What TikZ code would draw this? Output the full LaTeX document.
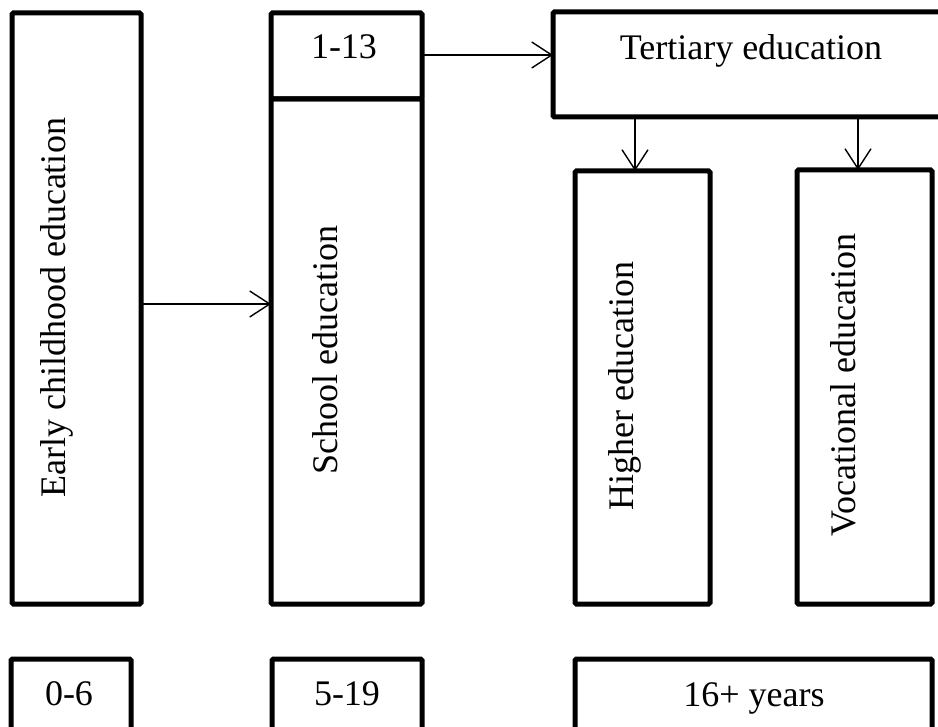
\documentclass[tikz,border=0pt]{standalone}
\usepackage{fontspec}
\setmainfont{Liberation Serif}
\usetikzlibrary{arrows.meta}
\begin{document}
\begin{tikzpicture}[x=1pt,y=-1pt,
  stagebox/.style={draw, line width=5pt, rounded corners=1.5pt, inner sep=0pt, outer sep=0pt},
  txt/.style={font=\fontsize{36}{40}\selectfont, inner sep=0pt, anchor=base},
  vtxt/.style={txt, rotate=90},
  arr/.style={line width=1.4pt, -{Straight Barb[length=20pt,width=26pt,line width=1.4pt]}}]
  \clip (0,0) rectangle (938,727);
  \fill[white] (0,0) rectangle (938,727);

  % stage boxes
  \node[stagebox, minimum width=129pt, minimum height=591pt] (early) at (76.5,308.5) {};
  \node[stagebox, minimum width=151pt, minimum height=86pt] (grades) at (346.5,56) {};
  \node[stagebox, minimum width=151pt, minimum height=505pt] (school) at (346.5,351.5) {};
  \node[stagebox, minimum width=396pt, minimum height=105pt] (tert) at (751,64.5) {};
  \node[stagebox, minimum width=135pt, minimum height=433pt] (higher) at (642.5,387.5) {};
  \node[stagebox, minimum width=135pt, minimum height=434pt] (voc) at (864.5,387) {};

  % age boxes
  \node[stagebox, minimum width=120pt, minimum height=100pt] (age1) at (71,709) {};
  \node[stagebox, minimum width=150pt, minimum height=100pt] (age2) at (347,709) {};
  \node[stagebox, minimum width=357pt, minimum height=100pt] (age3) at (753.5,709) {};

  % labels
  \node[vtxt] (tEarly) at (65,308) {Early childhood education};
  \node[vtxt] (tSchool) at (337,350) {School education};
  \node[vtxt] (tHigher) at (633,386) {Higher education};
  \node[vtxt] (tVoc) at (855,385) {Vocational education};
  \node[txt] (tGrades) at (344,59) {1-13};
  \node[txt] (tTert) at (751,60) {Tertiary education};
  \node[txt] (tAge1) at (69,705) {0-6};
  \node[txt] (tAge2) at (347,705) {5-19};
  \node[txt] (tAge3) at (754,706) {16+ years};

  % connectors
  \draw[arr] (early.east |- 0,304) -- (school.west |- 0,304);
  \draw[arr] (grades.east |- 0,55) -- (tert.west |- 0,55);
  \draw[arr] (tert.south -| 635,0) -- (higher.north -| 635,0);
  \draw[arr] (tert.south -| 858,0) -- (voc.north -| 858,0);
\end{tikzpicture}
\end{document}
